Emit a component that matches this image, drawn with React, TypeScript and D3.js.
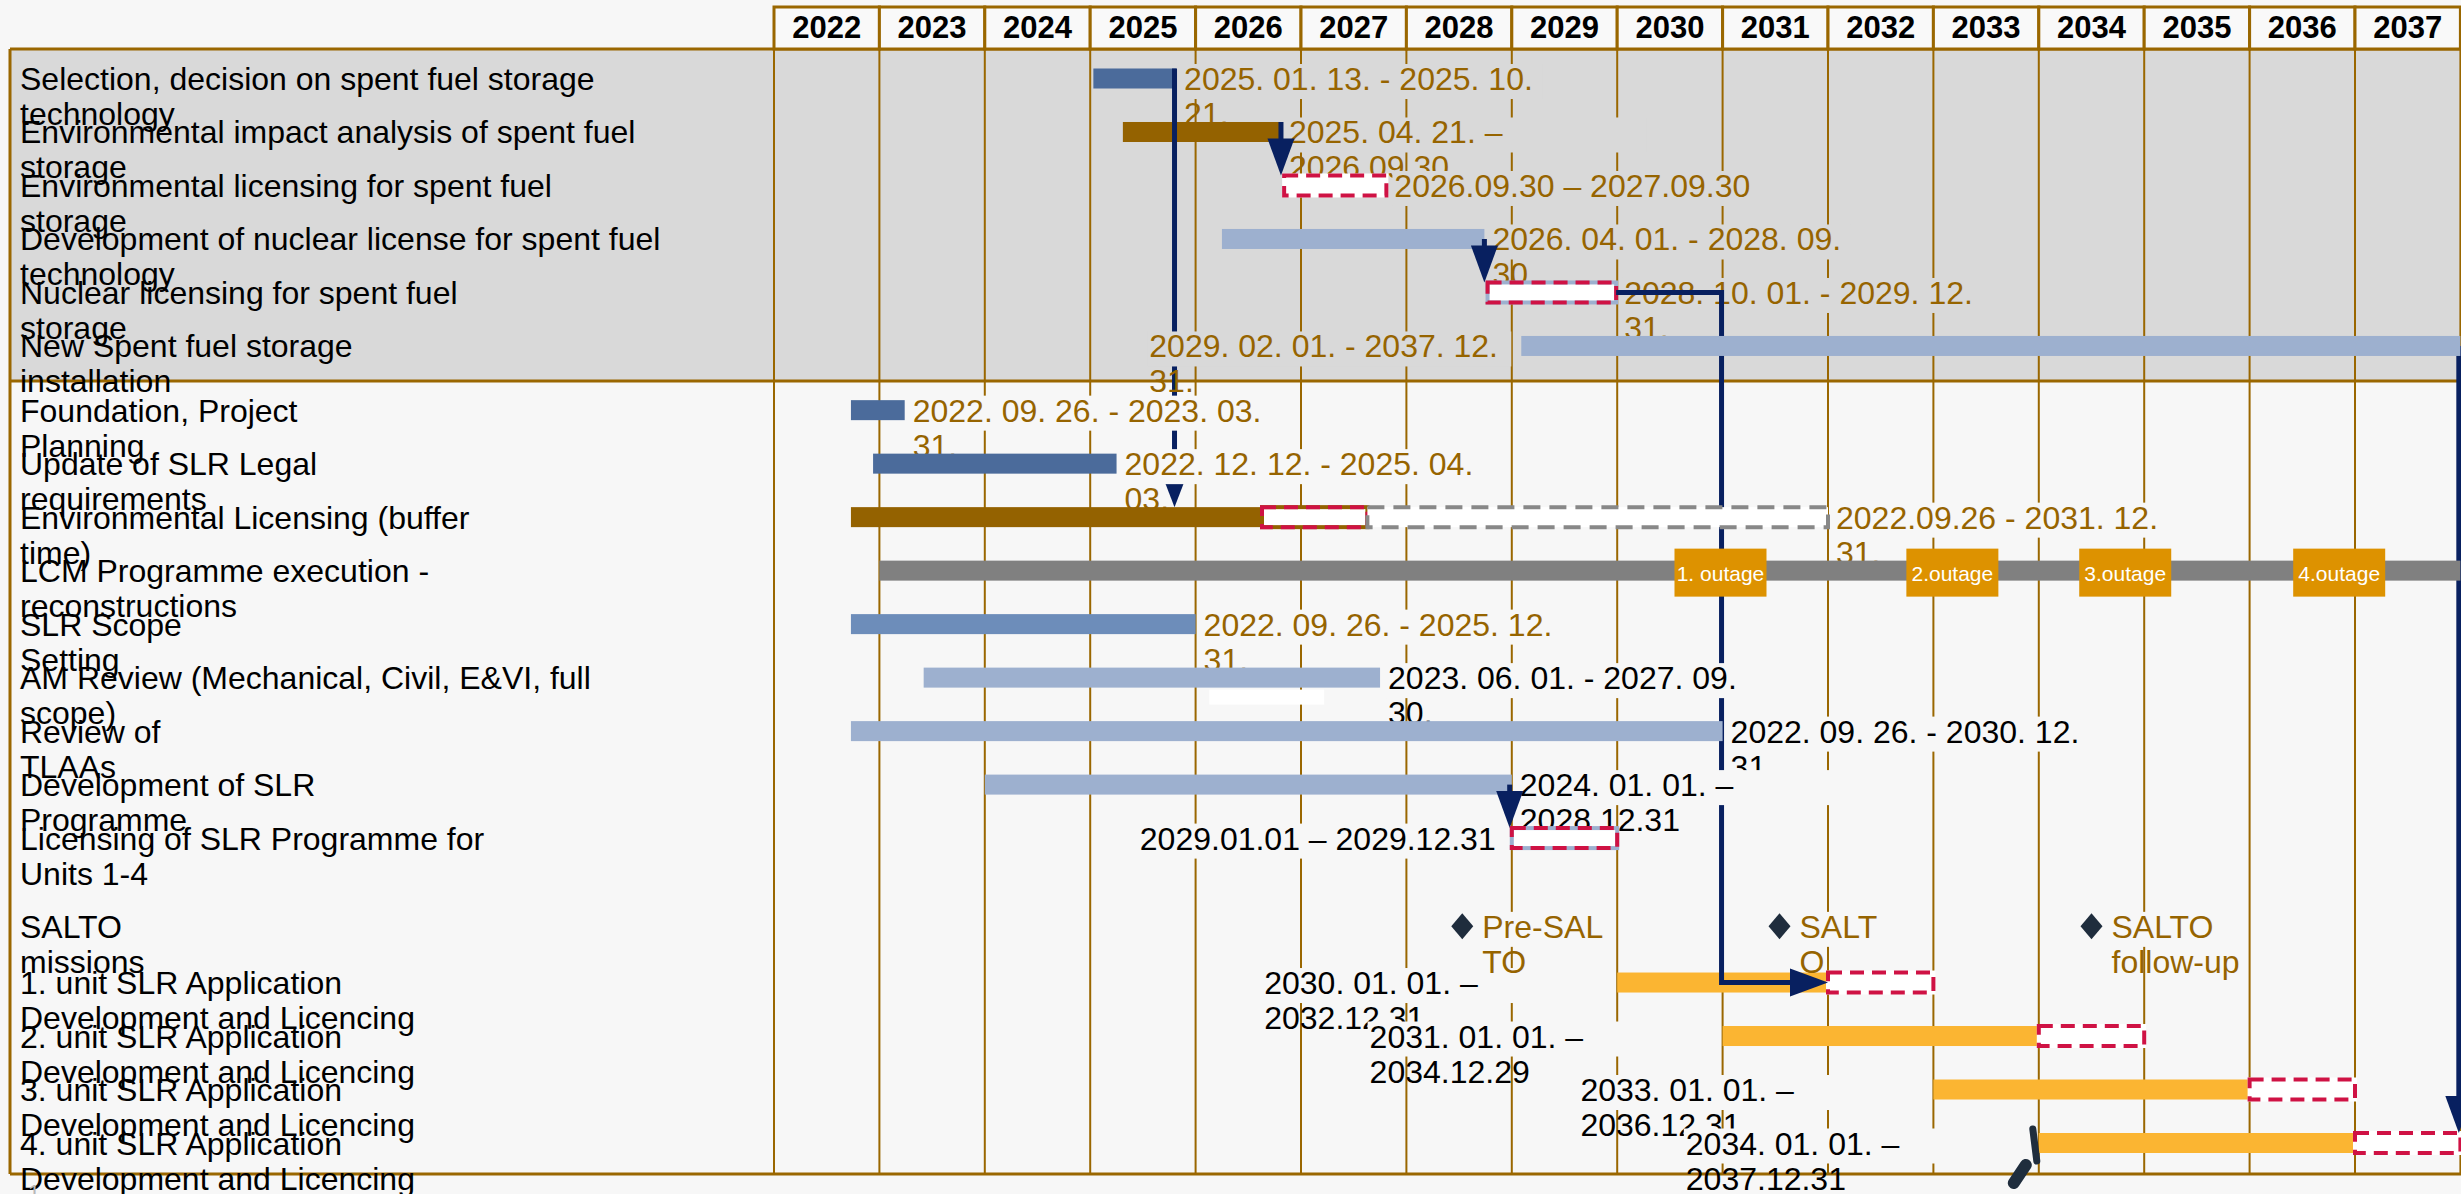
import React from 'react';
import * as d3 from 'd3';

const W = 2461;
const H = 1194;

// year columns in the header
const YEARS = d3.range(2022, 2038);

// left panel activity names (manual line breaks as in the source)
const ROW_LABELS: string[][] = [
  ['Selection, decision on spent fuel storage', 'technology'],
  ['Environmental impact analysis of spent fuel', 'storage'],
  ['Environmental licensing for spent fuel', 'storage'],
  ['Development of nuclear license for spent fuel', 'technology'],
  ['Nuclear licensing for spent fuel', 'storage'],
  ['New Spent fuel storage', 'installation'],
  ['Foundation, Project', 'Planning'],
  ['Update of SLR Legal', 'requirements'],
  ['Environmental Licensing (buffer', 'time)'],
  ['LCM Programme execution -', 'reconstructions'],
  ['SLR Scope', 'Setting'],
  ['AM Review (Mechanical, Civil, E&VI, full', 'scope)'],
  ['Review of', 'TLAAs'],
  ['Development of SLR', 'Programme'],
  ['Licensing of SLR Programme for', 'Units 1-4'],
  ['SALTO', 'missions'],
  ['1. unit SLR Application', 'Development and Licencing'],
  ['2. unit SLR Application', 'Development and Licencing'],
  ['3. unit SLR Application', 'Development and Licencing'],
  ['4. unit SLR Application', 'Development and Licencing'],
];

type Kind = 'dark' | 'gold' | 'light' | 'mid' | 'gray' | 'yellow' | 'licence' | 'licenceBlue' | 'licenceGold' | 'buffer';

// bars, in decimal years
const TASKS: { row: number; start: number; end: number; kind: Kind }[] = [
  { row: 0, start: 2025.03, end: 2025.815, kind: 'dark' },
  { row: 1, start: 2025.31, end: 2026.81, kind: 'gold' },
  { row: 2, start: 2026.84, end: 2027.81, kind: 'licence' },
  { row: 3, start: 2026.25, end: 2028.74, kind: 'light' },
  { row: 4, start: 2028.77, end: 2029.99, kind: 'licenceBlue' },
  { row: 5, start: 2029.09, end: 2038.0, kind: 'light' },
  { row: 6, start: 2022.73, end: 2023.24, kind: 'dark' },
  { row: 7, start: 2022.94, end: 2025.25, kind: 'dark' },
  { row: 8, start: 2022.73, end: 2026.63, kind: 'gold' },
  { row: 8, start: 2026.63, end: 2027.63, kind: 'licenceGold' },
  { row: 8, start: 2027.63, end: 2032.0, kind: 'buffer' },
  { row: 9, start: 2023.0, end: 2038.0, kind: 'gray' },
  { row: 10, start: 2022.73, end: 2026.0, kind: 'mid' },
  { row: 11, start: 2023.42, end: 2027.75, kind: 'light' },
  { row: 12, start: 2022.73, end: 2031.0, kind: 'light' },
  { row: 13, start: 2024.0, end: 2029.0, kind: 'light' },
  { row: 14, start: 2029.0, end: 2030.0, kind: 'licenceBlue' },
  { row: 16, start: 2030.0, end: 2032.0, kind: 'yellow' },
  { row: 16, start: 2032.0, end: 2033.0, kind: 'licence' },
  { row: 17, start: 2031.0, end: 2034.0, kind: 'yellow' },
  { row: 17, start: 2034.0, end: 2035.0, kind: 'licence' },
  { row: 18, start: 2033.0, end: 2036.0, kind: 'yellow' },
  { row: 18, start: 2036.0, end: 2037.0, kind: 'licence' },
  { row: 19, start: 2034.0, end: 2037.0, kind: 'yellow' },
  { row: 19, start: 2037.0, end: 2038.0, kind: 'licence' },
];

const DATE_LABELS: { row: number; side: 'left' | 'right'; tone: 'gold' | 'black'; lines: string[] }[] = [
  { row: 0, side: 'right', tone: 'gold', lines: ['2025. 01. 13. - 2025. 10.', '21.'] },
  { row: 1, side: 'right', tone: 'gold', lines: ['2025. 04. 21. –', '2026.09.30'] },
  { row: 2, side: 'right', tone: 'gold', lines: ['2026.09.30 – 2027.09.30'] },
  { row: 3, side: 'right', tone: 'gold', lines: ['2026. 04. 01. - 2028. 09.', '30.'] },
  { row: 4, side: 'right', tone: 'gold', lines: ['2028. 10. 01. - 2029. 12.', '31.'] },
  { row: 5, side: 'left', tone: 'gold', lines: ['2029. 02. 01. - 2037. 12.', '31.'] },
  { row: 6, side: 'right', tone: 'gold', lines: ['2022. 09. 26. - 2023. 03.', '31.'] },
  { row: 7, side: 'right', tone: 'gold', lines: ['2022. 12. 12. - 2025. 04.', '03.'] },
  { row: 8, side: 'right', tone: 'gold', lines: ['2022.09.26 - 2031. 12.', '31.'] },
  { row: 10, side: 'right', tone: 'gold', lines: ['2022. 09. 26. - 2025. 12.', '31.'] },
  { row: 11, side: 'right', tone: 'black', lines: ['2023. 06. 01. - 2027. 09.', '30.'] },
  { row: 12, side: 'right', tone: 'black', lines: ['2022. 09. 26. - 2030. 12.', '31.'] },
  { row: 13, side: 'right', tone: 'black', lines: ['2024. 01. 01. –', '2028.12.31'] },
  { row: 14, side: 'left', tone: 'black', lines: ['2029.01.01 – 2029.12.31'] },
  { row: 16, side: 'left', tone: 'black', lines: ['2030. 01. 01. –', '2032.12.31'] },
  { row: 17, side: 'left', tone: 'black', lines: ['2031. 01. 01. –', '2034.12.29'] },
  { row: 18, side: 'left', tone: 'black', lines: ['2033. 01. 01. –', '2036.12.31'] },
  { row: 19, side: 'left', tone: 'black', lines: ['2034. 01. 01. –', '2037.12.31'] },
];

const OUTAGE_ROW = 9;
const OUTAGE_NAMES = ['1. outage', '2.outage', '3.outage', '4.outage'];
const OUTAGE_AT = [2030.98, 2033.18, 2034.82, 2036.85];

const SALTO_ROW = 15;
const MILESTONE_LINES = [['Pre-SAL', 'TO'], ['SALT', 'O'], ['SALTO', 'follow-up']];
const MILESTONE_AT = [2028.53, 2031.54, 2034.5];

type Anchor = [number, number, 'top' | 'mid'];
// dependency arrows; "after" = row after which the arrow is painted
const LINKS: { after: number; head: 'small' | 'big' | 'right'; pts: Anchor[] }[] = [
  { after: 1, head: 'small', pts: [[2025.8, 0, 'top'], [2025.8, 8, 'top']] },
  { after: 1, head: 'big', pts: [[2026.81, 1, 'top'], [2026.81, 2, 'top']] },
  { after: 3, head: 'big', pts: [[2028.74, 3, 'mid'], [2028.74, 4, 'top']] },
  { after: 4, head: 'right', pts: [[2029.99, 4, 'mid'], [2030.99, 4, 'mid'], [2030.99, 16, 'mid'], [2032.0, 16, 'mid']] },
  { after: 19, head: 'big', pts: [[2037.985, 5, 'mid'], [2037.985, 19, 'top']] },
  { after: 13, head: 'big', pts: [[2028.98, 13, 'mid'], [2028.98, 14, 'top']] },
];

// the unit rows were painted first in the source
const DRAW_ORDER = [16, 17, 18, 19, 0, 1, 2, 3, 4, 5, 6, 7, 8, 9, 10, 11, 12, 13, 14, 15];

const FILL: Record<string, string> = {
  dark: '#4b6b9b',
  gold: '#946200',
  light: '#9db0cf',
  mid: '#6d8dba',
  gray: '#808080',
  yellow: '#fbb532',
};
const GRID = '#9a6700';
const GOLD_TEXT = '#966400';
const NAVY = '#082060';
const RED = '#cf1244';
const PAGE = '#f7f7f7';
const TOP_BG = '#d9d9d9';
const FONT = '"Liberation Sans", Arial, sans-serif';
const FS = 32;
const LINE_H = 35;
const BAR_H = 20;

const x = d3.scaleLinear().domain([2022, 2038]).range([774, 2460.4]);
const rowSlot = (i: number) => i + (i >= 6 ? 0.2 : 0) + (i >= SALTO_ROW ? 0.65 : 0) + (i > SALTO_ROW ? 0.05 : 0);
const yLin = d3.scaleLinear().domain([0, rowSlot(19)]).range([78.5, 1143]);
const rowY = (i: number) => yLin(rowSlot(i));

const PANEL_L = 10;
const HEAD_T = 7;
const HEAD_B = 49;
const SECTION_B = 381;
const CHART_B = 1174;

let measureCtx: CanvasRenderingContext2D | null = null;
function textW(s: string, size = FS) {
  if (!measureCtx) measureCtx = document.createElement('canvas').getContext('2d');
  if (!measureCtx) return s.length * size * 0.5;
  measureCtx.font = `${size}px "Liberation Sans", Arial, sans-serif`;
  return measureCtx.measureText(s).width;
}

function anchorY(a: Anchor) {
  return a[2] === 'top' ? rowY(a[1]) - BAR_H / 2 : rowY(a[1]);
}

function Link({ link }: { link: (typeof LINKS)[number] }) {
  const pts = link.pts.map(p => [x(p[0]), anchorY(p)] as [number, number]);
  const last = pts[pts.length - 1];
  let head: [number, number][];
  const line = pts.slice();
  if (link.head === 'right') {
    const L = 38, hw = 14;
    head = [[last[0] - L, last[1] - hw], [last[0] - L, last[1] + hw], [last[0], last[1]]];
    line[line.length - 1] = [last[0] - L + 2, last[1]];
  } else {
    const L = link.head === 'small' ? 26 : 37;
    const hw = link.head === 'small' ? 10 : 13.5;
    head = [[last[0] - hw, last[1] - L], [last[0] + hw, last[1] - L], [last[0], last[1]]];
    line[line.length - 1] = [last[0], last[1] - L + 2];
  }
  return (
    <g>
      <path d={d3.line()(line) || undefined} fill="none" stroke={NAVY} strokeWidth={5} />
      <path d={d3.line()(head) + 'Z'} fill={NAVY} />
    </g>
  );
}

function Bar({ t }: { t: (typeof TASKS)[number] }) {
  const x0 = x(t.start);
  const x1 = x(t.end);
  const y0 = rowY(t.row) - BAR_H / 2;
  if (t.kind === 'licence' || t.kind === 'licenceBlue' || t.kind === 'licenceGold') {
    const under = t.kind === 'licenceBlue' ? FILL.light : t.kind === 'licenceGold' ? FILL.gold : '#ffffff';
    return (
      <g>
        <rect x={x0} y={y0} width={x1 - x0} height={BAR_H} fill="#ffffff" stroke={under} strokeWidth={4} />
        <rect x={x0} y={y0} width={x1 - x0} height={BAR_H} fill="none" stroke={RED} strokeWidth={4} strokeDasharray="14 8" />
      </g>
    );
  }
  if (t.kind === 'buffer') {
    return <rect x={x0} y={y0} width={x1 - x0} height={BAR_H} fill="#ffffff" stroke="#888888" strokeWidth={4} strokeDasharray="17 9" />;
  }
  return <rect x={x0} y={y0} width={x1 - x0} height={BAR_H} fill={FILL[t.kind]} />;
}

function DateLabel({ d }: { d: (typeof DATE_LABELS)[number] }) {
  const segs = TASKS.filter(t => t.row === d.row);
  const leftGap = d.row > SALTO_ROW ? 353 : 372;
  const lx = d.side === 'right' ? x(d3.max(segs, s => s.end)!) + 8 : x(d3.min(segs, s => s.start)!) - leftGap;
  const base = rowY(d.row) + 11.5;
  const bg = d.row < 6 ? TOP_BG : PAGE;
  return (
    <g>
      <rect x={lx - 2} y={base - 26} width={d.side === 'right' ? 360 : leftGap - 8} height={35} fill={bg} />
      {d.lines.map((l, i) => (
        <text key={i} x={lx} y={base + i * LINE_H} fill={d.tone === 'gold' ? GOLD_TEXT : '#000'} fontSize={FS}>{l}</text>
      ))}
    </g>
  );
}

function Milestones() {
  const yc = rowY(SALTO_ROW);
  return (
    <g>
      {MILESTONE_AT.map((at, i) => {
        const cx = x(at);
        const lx = cx + 20;
        const base = yc + 11.5;
        const bw = d3.max(MILESTONE_LINES[i], l => textW(l))! + 6;
        return (
          <g key={i}>
            <path d={`M${cx},${yc - 13}L${cx + 11},${yc}L${cx},${yc + 13}L${cx - 11},${yc}Z`} fill="#1f2d3d" />
            <rect x={lx - 2} y={base - 26} width={bw} height={35} fill={PAGE} />
            {MILESTONE_LINES[i].map((l, j) => (
              <text key={j} x={lx} y={base + j * LINE_H} fill={GOLD_TEXT} fontSize={FS}>{l}</text>
            ))}
          </g>
        );
      })}
    </g>
  );
}

function Outages() {
  const yc = rowY(OUTAGE_ROW) + 2;
  return (
    <g>
      {OUTAGE_AT.map((at, i) => (
        <g key={i}>
          <rect x={x(at) - 46} y={yc - 24} width={92} height={48} fill="#dd9200" />
          <text x={x(at)} y={yc + 8} textAnchor="middle" fill="#fff" fontSize={21}>{OUTAGE_NAMES[i]}</text>
        </g>
      ))}
    </g>
  );
}

function RowGroup({ row }: { row: number }) {
  const label = DATE_LABELS.find(d => d.row === row);
  return (
    <g>
      {TASKS.filter(t => t.row === row).map((t, i) => <Bar key={i} t={t} />)}
      {row === OUTAGE_ROW && <Outages />}
      {label && <DateLabel d={label} />}
      {row === SALTO_ROW && <Milestones />}
      {LINKS.filter(l => l.after === row).map((l, i) => <Link key={i} link={l} />)}
    </g>
  );
}

export default function App() {
  const x2034 = x(2034);
  const y19 = rowY(19);
  return (
    <svg width={W} height={H} style={{ position: 'absolute', left: 0, top: 0, display: 'block' }}
      fontFamily={FONT}>
      <rect width={W} height={H} fill={PAGE} />
      <rect x={PANEL_L} y={HEAD_B} width={W - PANEL_L} height={SECTION_B - HEAD_B} fill={TOP_BG} />

      {/* year grid */}
      {d3.range(2022, 2039).map(yr => (
        <line key={yr} x1={x(yr)} x2={x(yr)} y1={HEAD_B} y2={CHART_B} stroke={GRID} strokeWidth={2} />
      ))}

      {/* frame */}
      <line x1={PANEL_L} x2={PANEL_L} y1={HEAD_B} y2={CHART_B} stroke={GRID} strokeWidth={3} />
      {[HEAD_B, SECTION_B, CHART_B].map(yy => (
        <line key={yy} x1={PANEL_L} x2={W} y1={yy} y2={yy} stroke={GRID} strokeWidth={3} />
      ))}

      {/* header */}
      {YEARS.map(yr => (
        <g key={yr}>
          <rect x={x(yr)} y={HEAD_T} width={x(yr + 1) - x(yr)} height={HEAD_B - HEAD_T} fill="#f9f9f9" stroke={GRID} strokeWidth={3} />
          <text x={(x(yr) + x(yr + 1)) / 2} y={38} textAnchor="middle" fontWeight="bold" fontSize={31} fill="#000">{yr}</text>
        </g>
      ))}

      {DRAW_ORDER.map(r => <RowGroup key={r} row={r} />)}

      {/* stray marks from the source */}
      <rect x={x(2026.13)} y={rowY(11) + 12} width={x(2027.22) - x(2026.13)} height={15} fill="#ffffff" />
      <path d={`M${x2034 - 6},${y19 - 14}L${x2034 - 2},${y19 + 18}`} stroke="#1f2d3d" strokeWidth={7} strokeLinecap="round" />
      <path d={`M${x2034 - 13},${y19 + 22}L${x2034 - 25},${y19 + 40}`} stroke="#1f2d3d" strokeWidth={12} strokeLinecap="round" />

      {/* row names */}
      {ROW_LABELS.map((lines, i) => (
        <g key={i}>
          {lines.map((l, j) => (
            <text key={j} x={20} y={rowY(i) + 11.5 + j * LINE_H} fontSize={FS} fill="#000">{l}</text>
          ))}
        </g>
      ))}
      <text x={28} y={1200} fontSize={22} fill="#b8b8b8">1</text>
    </svg>
  );
}
